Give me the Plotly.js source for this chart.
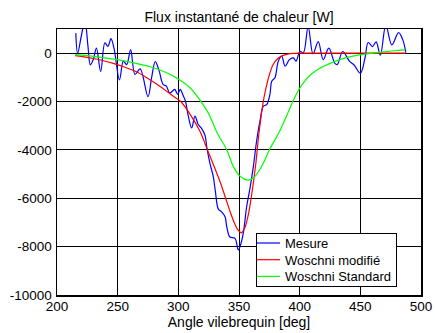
<!DOCTYPE html>
<html><head><meta charset="utf-8">
<script src="https://cdn.plot.ly/plotly-3.0.1.min.js"></script>
<style>html,body{margin:0;padding:0;background:#fff}#c{width:435px;height:333px}</style>
</head><body><div id="c"></div>
<script>
const seriesNames = ["Mesure", "Woschni modifié", "Woschni Standard"];

const mesureX = [215.5,217,220,223,225.5,227.5,230,232.5,236,239.5,242,244.5,247,251.5,254.7,257.4,260.7,264.3,268.5,275,278,281,284,287.5,290,293,297,299.5,301.5,304,306,308,311,313.7,316.4,319,322,323.5,326,328.8,330.5,333,335.7,338.5,340,342.5,346.7,349.4,350.8,353.5,356.3,359,361.8,364.6,367.3,370,372.8,375.5,377,379.6,382.4,385.2,388,391.5,394.8,397,400.3,403,407,411,415.3,419.4,424,429,431,435.5,441,445,450,453.8,456.5,460,463,466.5,471,476,481.5,485,487.5];
const mesureY = [830,0,700,1350,300,-480,-250,210,-760,430,280,600,200,-1100,-330,-470,150,-880,-650,-1800,-1000,-350,-700,-1300,-1350,-1650,-1500,-1700,-1500,-1750,-2000,-2550,-3090,-2600,-2950,-3100,-3400,-3900,-4550,-5100,-5700,-6450,-6560,-6760,-7200,-7600,-7660,-8140,-8000,-7450,-6350,-5600,-4700,-3600,-2800,-2200,-2130,-1700,-1160,-1020,-330,-125,-540,-265,-195,-330,80,10,1100,-30,480,-270,210,-420,-470,70,-330,-500,-830,-210,440,275,470,-80,1150,345,850,550,20];

const modX = [215,225,235,245,255,265,275,285,295,302,310,318,324,330,335,339,343,346,349,352,355,358,360,362,364,366,368,370,372,375,378,382,386,390,395,400,420,440,460,487];
const modY = [-100,-170,-270,-400,-560,-760,-1050,-1380,-1750,-2000,-2550,-3250,-4000,-4750,-5400,-6000,-6600,-7000,-7300,-7430,-7200,-6600,-6000,-5300,-4500,-3500,-2700,-2000,-1500,-900,-480,-220,-100,-40,-10,0,0,0,0,0];

const stdX = [215,230,250,265,277,290,301,310,318,325,332,340,345,350,355,358,362,367,371,375,380,384,390,395,400,405,410,417,425,433,441,451,460,469,478,487];
const stdY = [-60,-130,-270,-420,-560,-800,-1100,-1450,-1950,-2500,-3300,-4000,-4650,-5050,-5220,-5250,-5150,-4830,-4450,-4000,-3550,-3180,-2500,-1930,-1450,-1100,-850,-610,-420,-265,-150,-60,0,50,100,135];

const xTicks = [200,250,300,350,400,450,500];
const yTicks = [-10000,-8000,-6000,-4000,-2000,0];

const F = "Liberation Sans, Arial, sans-serif";
const traces = [
  {x: mesureX, y: mesureY, name: seriesNames[0], mode: "lines", line: {color: "#0000ff", width: 1.2, shape: "spline", smoothing: 1}},
  {x: modX, y: modY, name: seriesNames[1], mode: "lines", line: {color: "#ff0000", width: 1.2, shape: "spline", smoothing: 0.8}},
  {x: stdX, y: stdY, name: seriesNames[2], mode: "lines", line: {color: "#00ff00", width: 1.2, shape: "spline", smoothing: 0.8}}
];
const axisCommon = {
  showline: true, linecolor: "#000", linewidth: 1.5, mirror: "ticks",
  ticks: "inside", ticklen: 4, tickcolor: "#000",
  showgrid: true, gridcolor: "#000", gridwidth: 1, zeroline: false,
  tickfont: {family: F, size: 13.5, color: "#000"}
};
const layout = {
  width: 435, height: 333,
  margin: {l: 57, r: 14, t: 29, b: 38},
  paper_bgcolor: "#fff", plot_bgcolor: "#fff",
  font: {family: F, color: "#000"},
  title: {text: "Flux instantané de chaleur [W]", font: {family: F, size: 14, color: "#000"}, x: 0.5, xref: "paper", y: 0.95, yref: "container", yanchor: "middle"},
  xaxis: Object.assign({}, axisCommon, {range: [200, 500], tickvals: xTicks, ticktext: xTicks.map(String), ticklabelstandoff: -2,
    title: {text: "Angle vilebrequin [deg]", font: {family: F, size: 14, color: "#000"}, standoff: 0}}),
  yaxis: Object.assign({}, axisCommon, {range: [-10000, 1000], tickvals: yTicks, ticktext: yTicks.map(String), ticklabelstandoff: 1}),
  showlegend: true,
  legend: {x: 0.934, y: 0.034, xanchor: "right", yanchor: "bottom", bgcolor: "#fff", bordercolor: "#000", borderwidth: 1,
    font: {family: F, size: 13, color: "#000"}, itemwidth: 30, tracegroupgap: 0, indentation: -12}
};
Plotly.newPlot("c", traces, layout, {displayModeBar: false, staticPlot: true}).then(gd => {
  // compact the legend rows to match the reference's tighter spacing
  try {
    const leg = gd.querySelector("g.legend");
    const bg = leg.querySelector("rect.bg");
    const items = leg.querySelectorAll("g.traces");
    const re = /translate\(\s*([-\d.e]+)[ ,]+([-\d.e]+)\s*\)/;
    const pad = 10, gap = 16.7, boxH = 53;
    items.forEach((g, i) => {
      const m = re.exec(g.getAttribute("transform") || "");
      if (m) g.setAttribute("transform", "translate(" + m[1] + "," + (pad + i * gap) + ")");
    });
    bg.setAttribute("height", boxH);
    const lm = re.exec(leg.getAttribute("transform") || "");
    if (lm) leg.setAttribute("transform", "translate(" + lm[1] + "," + 233 + ")");
  } catch (e) {}
});
</script></body></html>
